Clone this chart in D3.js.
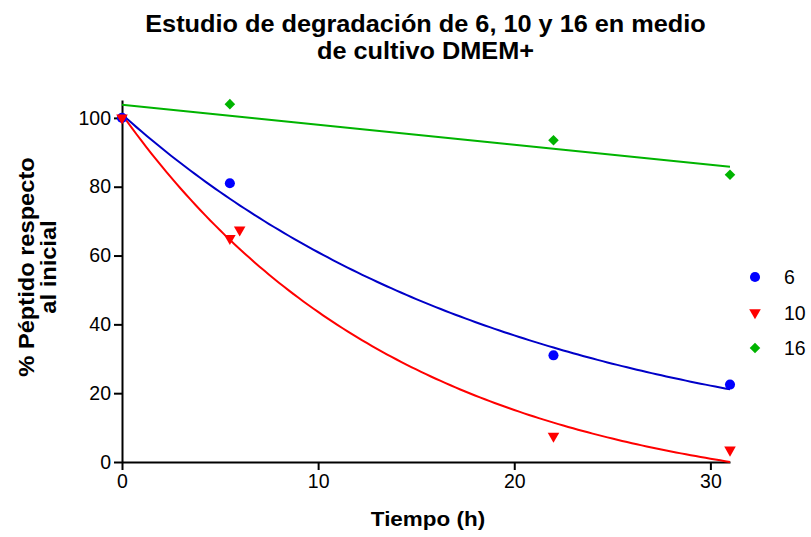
<!DOCTYPE html>
<html>
<head>
<meta charset="utf-8">
<script src="https://cdn.jsdelivr.net/npm/d3@7"></script>
<style>
  body { margin: 0; background: #fff; }
  svg { display: block; font-family: Arial, "Liberation Sans", sans-serif; }
</style>
</head>
<body>
<svg id="chart" width="811" height="537"></svg>
<script>
// Sampling times (h) for each compound
const time6 = [0, 5.5, 22, 31];
const time10 = [0, 5.5, 6, 22, 31];
const time16 = [0, 5.5, 22, 31];

// % peptide remaining relative to t = 0
const pct6 = [100, 81, 31, 22.5];
const pct10 = [100, 65, 67.5, 7.5, 3.5];
const pct16 = [100, 104, 93.5, 83.5];

// Fitted models: one-phase decay (Y0, plateau, k) and straight line (intercept, slope)
const fit6 = { y0: 101, plateau: 0, k: 0.0505 };
const fit10 = { y0: 101, plateau: -13, k: 0.07 };
const fit16 = { intercept: 103.8, slope: -0.58 };

const seriesNames = ["6", "10", "16"];
const markerColors = ["#0000ff", "#ff0000", "#00b400"];
const curveColors = ["#0000c8", "#ff0000", "#00b400"];
const xTicks = [0, 10, 20, 30];
const yTicks = [0, 20, 40, 60, 80, 100];

const svg = d3.select("#chart");

const x = d3.scaleLinear().domain([0, 31]).range([122, 730]);
const y = d3.scaleLinear().domain([0, 105.2]).range([462, 100]);

// Axes
const xAxis = svg.append("g")
  .attr("transform", `translate(0,${y(0)})`)
  .call(d3.axisBottom(x).tickValues(xTicks).tickSize(8).tickSizeOuter(0).tickPadding(4));
const yAxis = svg.append("g")
  .attr("transform", `translate(${x(0)},0)`)
  .call(d3.axisLeft(y).tickValues(yTicks).tickSize(8).tickSizeOuter(0).tickPadding(3));

[xAxis, yAxis].forEach(g => {
  g.select(".domain").attr("stroke", "#000").attr("stroke-width", 2);
  g.selectAll(".tick line").attr("stroke", "#000").attr("stroke-width", 2);
  g.selectAll(".tick text").attr("font-size", 19.5).attr("fill", "#000")
    .attr("font-family", "Arial, 'Liberation Sans', sans-serif");
});

// Fitted curves
const decay = f => t => (f.y0 - f.plateau) * Math.exp(-f.k * t) + f.plateau;
const linear = f => t => f.intercept + f.slope * t;
const curveFns = [decay(fit6), decay(fit10), linear(fit16)];
const tSamples = d3.range(0, 31.0001, 0.25);
const line = d3.line().x(d => x(d[0])).y(d => y(d[1]));

curveFns.forEach((fn, i) => {
  svg.append("path")
    .datum(tSamples.map(t => [t, fn(t)]))
    .attr("fill", "none")
    .attr("stroke", curveColors[i])
    .attr("stroke-width", 2)
    .attr("d", line);
});

// Markers: circle, downward triangle, square turned into a diamond
const symbols = [d3.symbolCircle, d3.symbolTriangle, d3.symbolSquare];
const sizes = [80, 58, 56];
const rotations = [0, 180, 45];
const times = [time6, time10, time16];
const values = [pct6, pct10, pct16];

[2, 0, 1].forEach(i => {
  svg.append("g").selectAll("path")
    .data(times[i].map((t, j) => [t, values[i][j]]))
    .join("path")
    .attr("d", d3.symbol().type(symbols[i]).size(sizes[i]))
    .attr("transform", d => `translate(${x(d[0])},${y(d[1])}) rotate(${rotations[i]})`)
    .attr("fill", markerColors[i]);
});

// Legend
const legend = svg.append("g");
seriesNames.forEach((name, i) => {
  const ly = 277 + i * 35.5;
  legend.append("path")
    .attr("d", d3.symbol().type(symbols[i]).size(sizes[i]))
    .attr("transform", `translate(755,${ly}) rotate(${rotations[i]})`)
    .attr("fill", markerColors[i]);
  legend.append("text")
    .attr("x", 784).attr("y", ly).attr("dy", "0.36em")
    .attr("font-size", 19.5).text(name);
});

// Chart title (two lines)
const title = svg.append("g").attr("transform", "translate(425.5,0) scale(1.1,1)");
const titleText = title.append("text")
  .attr("text-anchor", "middle").attr("font-weight", "bold").attr("font-size", 23);
titleText.append("tspan").attr("x", 0).attr("y", 32).text("Estudio de degradación de 6, 10 y 16 en medio");
titleText.append("tspan").attr("x", 0).attr("y", 59).text("de cultivo DMEM+");

// X axis title
svg.append("g").attr("transform", "translate(428,526) scale(1.07,1)")
  .append("text")
  .attr("text-anchor", "middle").attr("font-weight", "bold").attr("font-size", 21)
  .text("Tiempo (h)");

// Y axis title (two lines, rotated)
const yl = svg.append("g").attr("transform", "translate(0,267) rotate(-90) scale(1.1,1)")
  .append("text")
  .attr("text-anchor", "middle").attr("font-weight", "bold").attr("font-size", 21.5);
yl.append("tspan").attr("x", 0).attr("y", 34).text("% Péptido respecto");
yl.append("tspan").attr("x", 0).attr("y", 56).text("al inicial");
</script>
</body>
</html>
